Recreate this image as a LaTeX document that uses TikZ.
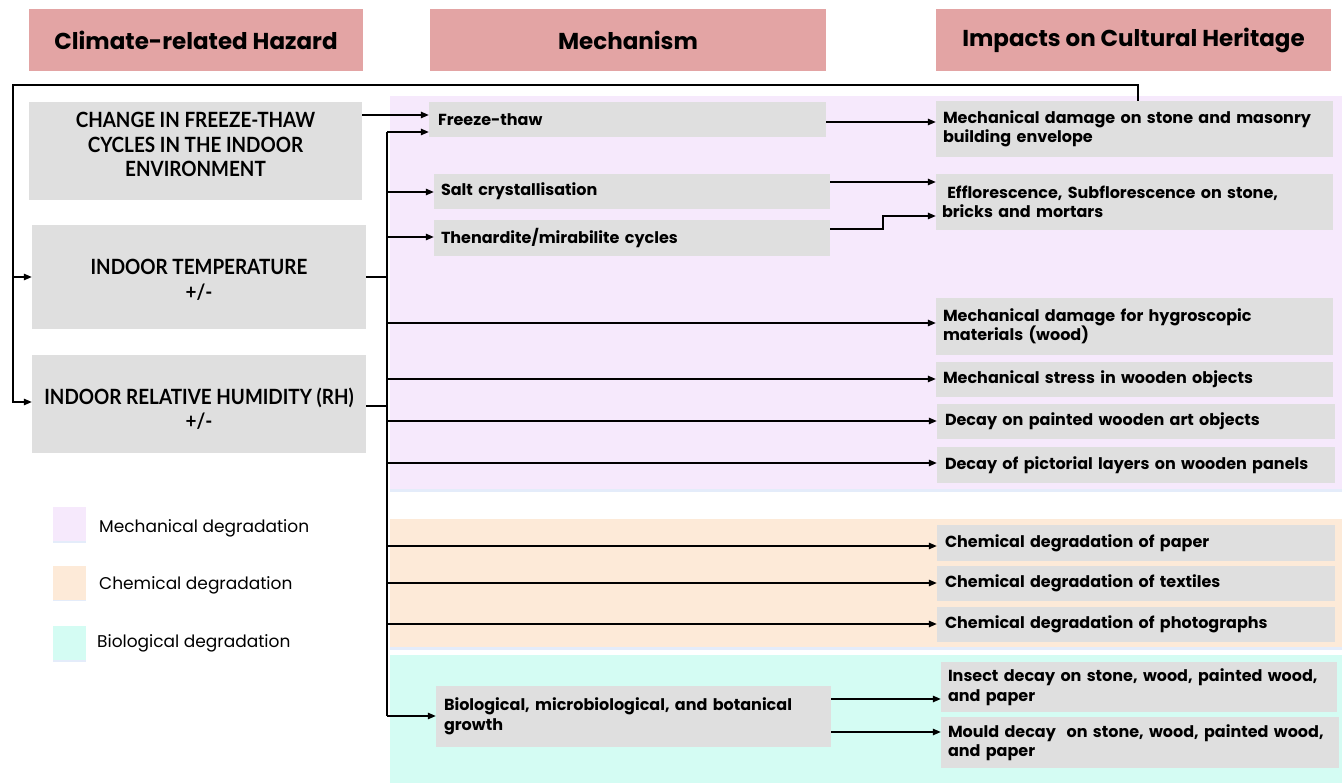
\documentclass[tikz,border=0pt]{standalone}
\usepackage{fontspec}
\setmainfont{Poppins}
\newfontfamily\capsfont{Lato}[FakeStretch=0.9]
\usetikzlibrary{arrows.meta}
\definecolor{hdrcol}{RGB}{227,164,164}
\definecolor{graycol}{RGB}{223,223,223}
\definecolor{lavcol}{RGB}{246,233,252}
\definecolor{peachcol}{RGB}{253,234,216}
\definecolor{mintcol}{RGB}{212,252,243}
\definecolor{shadcol}{RGB}{228,236,250}
\begin{document}
\begin{tikzpicture}[x=1pt,y=-1pt,
  hdr/.style={fill=hdrcol, inner sep=0pt, font=\fontsize{23}{27}\selectfont\bfseries},
  gbox/.style={fill=graycol, inner ysep=0pt, align=left, font=\fontsize{16}{19.5}\selectfont\bfseries},
  lbox/.style={fill=graycol, inner sep=0pt},
  ltxt/.style={inner sep=0pt, align=center, font=\capsfont\fontsize{21}{24.5}\selectfont\bfseries},
  legsq/.style={minimum width=33pt, minimum height=34pt, inner sep=0pt},
  legtxt/.style={anchor=west, inner sep=0pt, font=\fontsize{17}{20}\selectfont},
  ln/.style={line width=1.3pt, draw=black},
  arr/.style={line width=1.3pt, draw=black, -{Triangle[length=8pt,width=6.5pt]}}]
\useasboundingbox (0,0) rectangle (1342,783);
% background bands
\fill[shadcol] (390,489) rectangle (1342,492);
\fill[lavcol] (390,96) rectangle (1342,489);
\fill[shadcol] (390,647) rectangle (1342,650);
\fill[peachcol] (390,519) rectangle (1342,647);
\fill[mintcol] (390,655) rectangle (1342,783);
% headers
\node[hdr, minimum width=334pt, minimum height=62pt] (h1) at (196,40) {Climate-related Hazard};
\node[hdr, minimum width=396pt, minimum height=62pt] (h2) at (628,40) {Mechanism};
\node[hdr, minimum width=395pt, minimum height=62pt] (h3) at (1133.5,40) {Impacts on Cultural Heritage};
% hazard boxes
\node[lbox, minimum width=333pt, minimum height=98pt,
  label={[ltxt, yshift=6.5pt]center:{CHANGE IN FREEZE-THAW\\CYCLES IN THE INDOOR\\ENVIRONMENT}}] (c1) at (195.5,151) {};
\node[lbox, minimum width=334pt, minimum height=104pt,
  label={[ltxt, yshift=-3pt]center:{INDOOR TEMPERATURE\\+/-}}] (c2) at (199,277) {};
\node[lbox, minimum width=334pt, minimum height=98pt,
  label={[ltxt, yshift=-5pt]center:{INDOOR RELATIVE HUMIDITY (RH)\\+/-}}] (c3) at (199,404) {};
% mechanism boxes
\node[gbox, inner xsep=9pt, text width=379pt, minimum height=35pt] (m1) at (627.5,119.5) {Freeze-thaw};
\node[gbox, inner xsep=7pt, text width=382pt, minimum height=35pt] (m2) at (632,191.5) {Salt crystallisation};
\node[gbox, inner xsep=7pt, text width=382pt, minimum height=36pt] (m3) at (632,238) {Thenardite/mirabilite cycles};
\node[gbox, inner xsep=8pt, text width=379pt, minimum height=61pt] (m4) at (633.5,716.5) {Biological, microbiological, and botanical\\growth};
% impact boxes
\node[gbox, inner xsep=7pt, text width=383pt, minimum height=56pt] (i1) at (1134.5,129) {Mechanical damage on stone and masonry\\building envelope};
\node[gbox, inner xsep=6pt, text width=385pt, minimum height=56pt] (i2) at (1134.5,202) {\ Efflorescence, Subflorescence on stone,\\bricks and mortars};
\node[gbox, inner xsep=7pt, text width=383pt, minimum height=57pt] (i3) at (1134.5,326.5) {Mechanical damage for hygroscopic\\materials (wood)};
\node[gbox, inner xsep=7pt, text width=383pt, minimum height=35pt] (i4) at (1134.5,379.5) {Mechanical stress in wooden objects};
\node[gbox, inner xsep=8pt, text width=382pt, minimum height=35pt] (i5) at (1136,421.5) {Decay on painted wooden art objects};
\node[gbox, inner xsep=8pt, text width=382pt, minimum height=36pt] (i6) at (1136,465) {Decay of pictorial layers on wooden panels};
\node[gbox, inner xsep=8pt, text width=382pt, minimum height=36pt] (i7) at (1136,543) {Chemical degradation of paper};
\node[gbox, inner xsep=8pt, text width=382pt, minimum height=35pt] (i8) at (1136,583.5) {Chemical degradation of textiles};
\node[gbox, inner xsep=8pt, text width=382pt, minimum height=35pt] (i9) at (1136,624.5) {Chemical degradation of photographs};
\node[gbox, inner xsep=7pt, text width=382pt, minimum height=50pt] (i10) at (1139,687) {Insect decay on stone, wood, painted wood,\\and paper};
\node[gbox, inner xsep=7pt, text width=384pt, minimum height=51pt] (i11) at (1140,742.5) {Mould decay\ \ on stone, wood, painted wood,\\and paper};
% legend
\fill[shadcol] (53,509) rectangle (86,543);
\node[legsq, fill=lavcol] (lg1) at (69.5,524) {};
\fill[shadcol] (53,568) rectangle (86,601);
\node[legsq, fill=peachcol] (lg2) at (69.5,582.5) {};
\fill[shadcol] (53,628) rectangle (86,662);
\node[legsq, fill=mintcol] (lg3) at (69.5,643) {};
\node[legtxt] (lt1) at (99,528) {Mechanical degradation};
\node[legtxt] (lt2) at (99,585) {Chemical degradation};
\node[legtxt] (lt3) at (97,643) {Biological degradation};
% connectors
\coordinate (trk) at (387,0);
\coordinate (lp) at (13,85);
\coordinate (bend) at (883,216);
\draw[ln] (trk |- 0,132) -- (trk |- 0,716);
\draw[ln] (c2.east) -- (trk |- c2.east);
\draw[ln] (c3.east |- 0,406) -- (trk |- 0,406);
\draw[arr] (c1.east |- 0,115) -- (m1.west |- 0,115);
\draw[arr] (trk |- 0,132) -- (m1.west |- 0,132);
\draw[arr] (trk |- 0,192) -- (m2.west |- 0,192);
\draw[arr] (trk |- 0,237) -- (m3.west |- 0,237);
\draw[arr] (trk |- 0,323) -- (i3.west |- 0,323);
\draw[arr] (trk |- 0,379) -- (i4.west |- 0,379);
\draw[arr] (trk |- 0,421) -- (i5.west |- 0,421);
\draw[arr] (trk |- 0,463) -- (i6.west |- 0,463);
\draw[arr] (trk |- 0,546) -- (i7.west |- 0,546);
\draw[arr] (trk |- 0,583) -- (i8.west |- 0,583);
\draw[arr] (trk |- 0,624) -- (i9.west |- 0,624);
\draw[arr] (trk |- 0,716) -- (m4.west |- 0,716);
\draw[arr] (m1.east |- 0,122) -- (i1.west |- 0,122);
\draw[arr] (m2.east |- 0,182) -- (i2.west |- 0,182);
\draw[arr] (m3.east |- 0,229) -| (bend) -- (i2.west |- bend);
\draw[arr] (m4.east |- 0,699) -- (i10.west |- 0,699);
\draw[arr] (m4.east |- 0,732) -- (i11.west |- 0,732);
\draw[arr] (i1.north -| 1138,0) |- (lp) |- (c3.west |- 0,402);
\draw[arr] (lp |- c2.west) -- (c2.west);
\end{tikzpicture}
\end{document}
